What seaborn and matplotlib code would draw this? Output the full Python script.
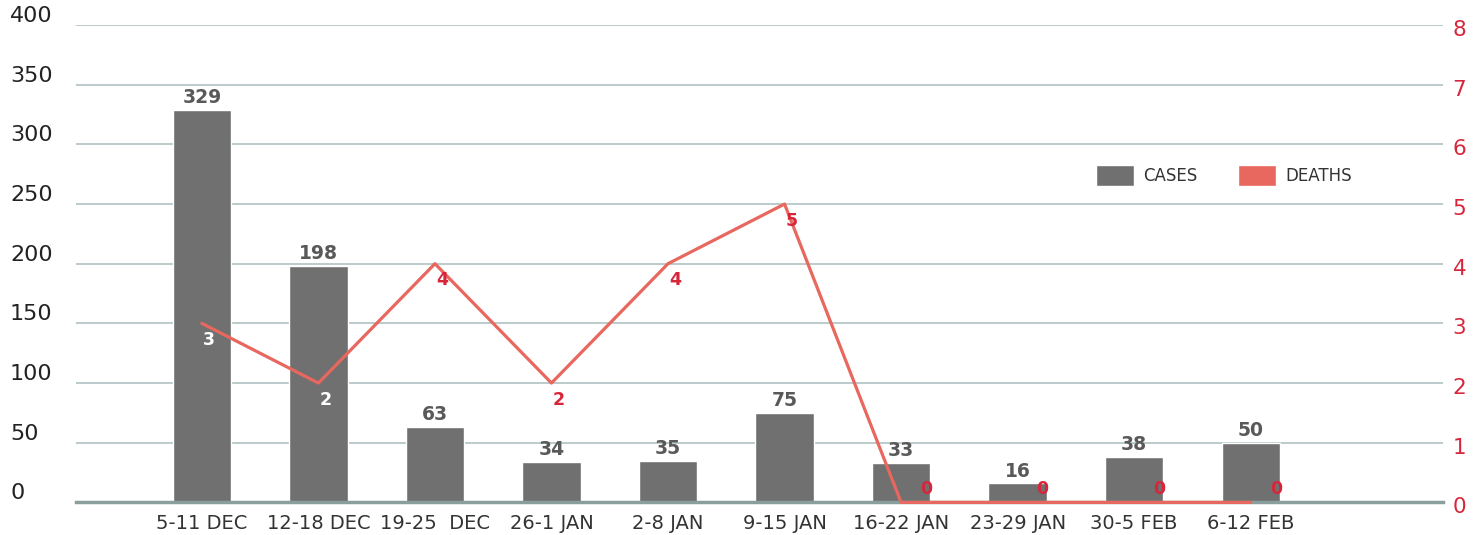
# %% Weekly cases and deaths, combo chart (bars + line on twin axis)

import numpy as np
import matplotlib.pyplot as plt
import matplotlib.transforms as mtransforms
from matplotlib.patches import Patch
import seaborn as sns

# data
weeks = ["5-11 DEC", "12-18 DEC", "19-25  DEC", "26-1 JAN", "2-8 JAN",
         "9-15 JAN", "16-22 JAN", "23-29 JAN", "30-5 FEB", "6-12 FEB"]
cases = [329, 198, 63, 34, 35, 75, 33, 16, 38, 50]
deaths = [3, 2, 4, 2, 4, 5, 0, 0, 0, 0]
cases_ticks = [0, 50, 100, 150, 200, 250, 300, 350, 400]
deaths_ticks = [0, 1, 2, 3, 4, 5, 6, 7, 8]

bar_color = "#707070"
line_color = "#E8675E"
label_red = "#D7263B"
grid_color = "#AFC1C1"
axis_color = "#8A9E9E"

sns.set_theme(style="white")
plt.rcParams['font.family'] = ['DejaVu Sans']

fig = plt.figure(figsize=(14.77, 5.35), dpi=100)
ax = fig.add_axes([76 / 1477, 32.6 / 535, (1443 - 76) / 1477, 477.4 / 535])

# bars
sns.barplot(x=weeks, y=cases, color=bar_color, width=0.5, saturation=1, ax=ax, zorder=2)
ax.set_ylim(0, 400)
ax.set_xlim(-1.08, 10.65)
ax.set_yticks(cases_ticks)
ax.yaxis.grid(True, color=grid_color, linewidth=1.2)
ax.set_axisbelow(True)
for s in ["top", "right", "left"]:
    ax.spines[s].set_visible(False)
ax.spines["bottom"].set_color(axis_color)
ax.spines["bottom"].set_linewidth(2.5)
ax.tick_params(axis="y", length=0, pad=47.5, labelsize=16, labelcolor="#222222")
ax.tick_params(axis="x", length=0, pad=8, labelsize=14, labelcolor="#333333")
up = mtransforms.ScaledTranslation(0, 11 / 100, fig.dpi_scale_trans)
for lbl in ax.get_yticklabels():
    lbl.set_horizontalalignment("left")
    lbl.set_transform(lbl.get_transform() + up)
ax.set_xlabel("")
ax.set_ylabel("")

for i, v in enumerate(cases):
    ax.annotate(str(v), (i, v), xytext=(0, 2), textcoords="offset points",
                ha="center", va="bottom", fontsize=13.5, fontweight="bold", color="#595959")

# deaths line on twin axis
ax2 = ax.twinx()
x_pos = np.arange(len(weeks))
sns.lineplot(x=x_pos, y=deaths, color=line_color, linewidth=2.3, ax=ax2, zorder=3)
for ln in ax2.get_lines():
    ln.set_clip_on(False)
ax2.set_ylim(0, 8)
ax2.set_yticks(deaths_ticks)
for s in ["top", "right", "left", "bottom"]:
    ax2.spines[s].set_visible(False)
ax2.tick_params(axis="y", length=0, pad=7, labelsize=15.5, labelcolor=label_red)
down = mtransforms.ScaledTranslation(0, -3 / 100, fig.dpi_scale_trans)
for lbl in ax2.get_yticklabels():
    lbl.set_transform(lbl.get_transform() + down)

for i, d in enumerate(deaths):
    inside = 0 < d * 50 < cases[i]
    col = "white" if inside else label_red
    if d == 0:
        off = (18, 10)
    else:
        off = (5, -12)
    ax2.annotate(str(d), (i, d), xytext=off, textcoords="offset points",
                 ha="center", va="center", fontsize=12.5, fontweight="bold", color=col)

# legend
handles = [Patch(facecolor=bar_color, label="CASES"), Patch(facecolor=line_color, label="DEATHS")]
fig.legend(handles=handles, loc="center left", bbox_to_anchor=(1096 / 1477, 359.5 / 535),
           ncol=2, frameon=False, fontsize=12, handlelength=2.3, handleheight=1.5,
           handletextpad=0.55, columnspacing=2.4, borderpad=0, borderaxespad=0,
           labelcolor="#333333")

plt.savefig("out.png", dpi=100)
plt.close()
